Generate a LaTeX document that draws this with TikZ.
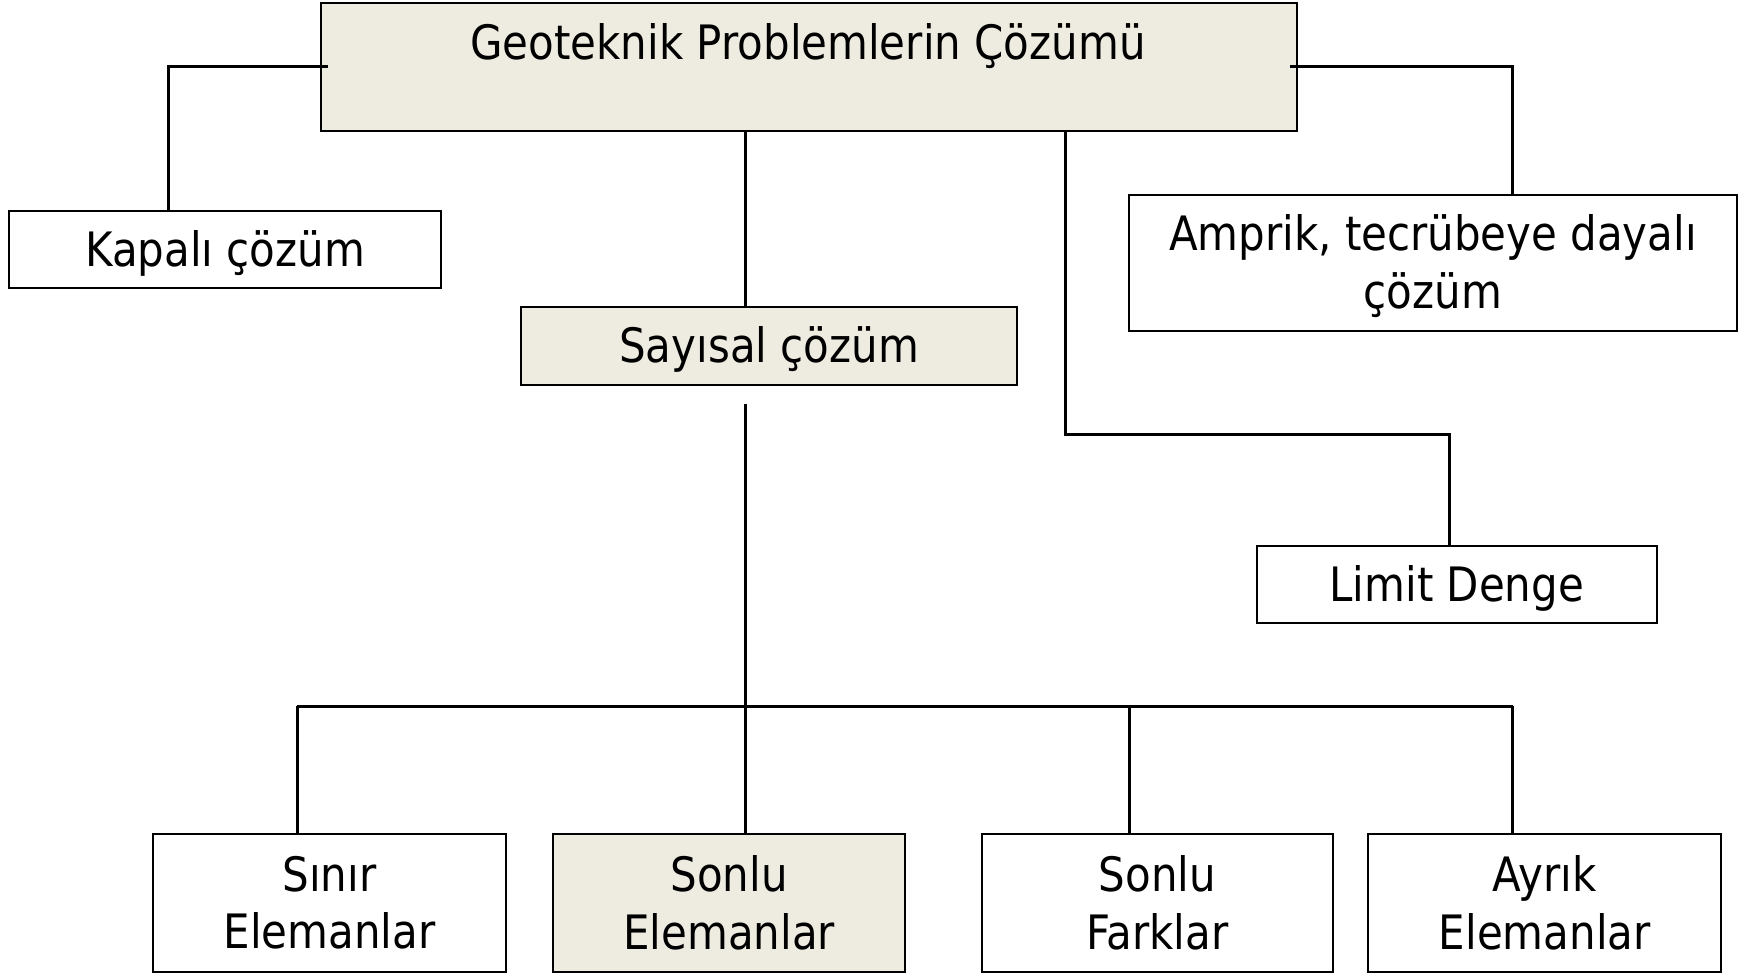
\documentclass[tikz,border=0pt]{standalone}
\usepackage{fontspec}
\setmainfont{DejaVu Sans}[FakeStretch=0.885]
\definecolor{beige}{HTML}{EEECE1}
\begin{document}
\begin{tikzpicture}[x=1pt,y=-1pt,
  box/.style={draw=black, line width=2pt, fill=white, inner sep=0pt, align=center,
              font=\fontsize{47.4}{57.7}\selectfont},
  shaded/.style={box, fill=beige},
  oneline/.style={text height=44.5pt, text depth=11.2pt},
  conn/.style={line width=3pt, black},
  lbl/.style={inner sep=0pt, font=\fontsize{47.4}{57.7}\selectfont}]
\useasboundingbox (0,0) rectangle (1739,974);
% boxes
\node[shaded, minimum width=976, minimum height=127.6] (top) at (808.5,66.9) {};
\node[lbl] (toptxt) at (808,46.5) {Geoteknik Problemlerin Çözümü};
\node[box, oneline, minimum width=432.5, minimum height=77.6] (kap) at (225.2,249.5) {Kapalı çözüm};
\node[box, text height=98.2pt, text depth=6.7pt, minimum width=607.7, minimum height=135.3] (amp) at (1432.9,262.9) {Amprik, tecrübeye dayalı\\çözüm};
\node[shaded, oneline, minimum width=495.8, minimum height=77.6] (say) at (769.1,346) {Sayısal çözüm};
\node[box, oneline, minimum width=400.3, minimum height=77.7] (lim) at (1456.7,584.5) {Limit Denge};
\node[box, minimum width=352.7, minimum height=137.5] (sin) at (329.4,902.8) {Sınır\\Elemanlar};
\node[shaded, minimum width=351.6, minimum height=137.5] (sel) at (729.2,902.8) {Sonlu\\Elemanlar};
\node[box, minimum width=351.6, minimum height=137.5] (sfa) at (1157.3,902.8) {Sonlu\\Farklar};
\node[box, minimum width=352.7, minimum height=137.5] (ayr) at (1544.8,902.8) {Ayrık\\Elemanlar};
% coordinates
\coordinate (tl) at (328,66.5);
\coordinate (tr) at (1289.8,66.5);
\coordinate (kapc) at (168.6,210.7);
\coordinate (ampc) at (1512.7,195.2);
\coordinate (xm) at (745.2,0);
\coordinate (xl) at (1065.7,0);
\coordinate (lmid) at (1065.7,434.7);
\coordinate (limc) at (1449.5,434.7);
\coordinate (sayb) at (745.2,403.7);
\coordinate (busl) at (297.2,706.4);
\coordinate (busr) at (1512.7,706.4);
\coordinate (busf) at (1129,706.4);
\coordinate (busm) at (745.2,706.4);
% connectors
\draw[conn] (tl) -| (kapc);
\draw[conn] (tr) -| (ampc);
\draw[conn] (top.south -| xm) -- (say.north -| xm);
\draw[conn] (top.south -| xl) -- (lmid) -| (lim.north -| limc);
\draw[conn] (sayb) -- (sel.north -| xm);
\draw[conn] (busl) -- (busr);
\draw[conn] (busl) -- (sin.north -| busl);
\draw[conn] (busf) -- (sfa.north -| busf);
\draw[conn] (busr) -- (ayr.north -| busr);
\end{tikzpicture}
\end{document}
